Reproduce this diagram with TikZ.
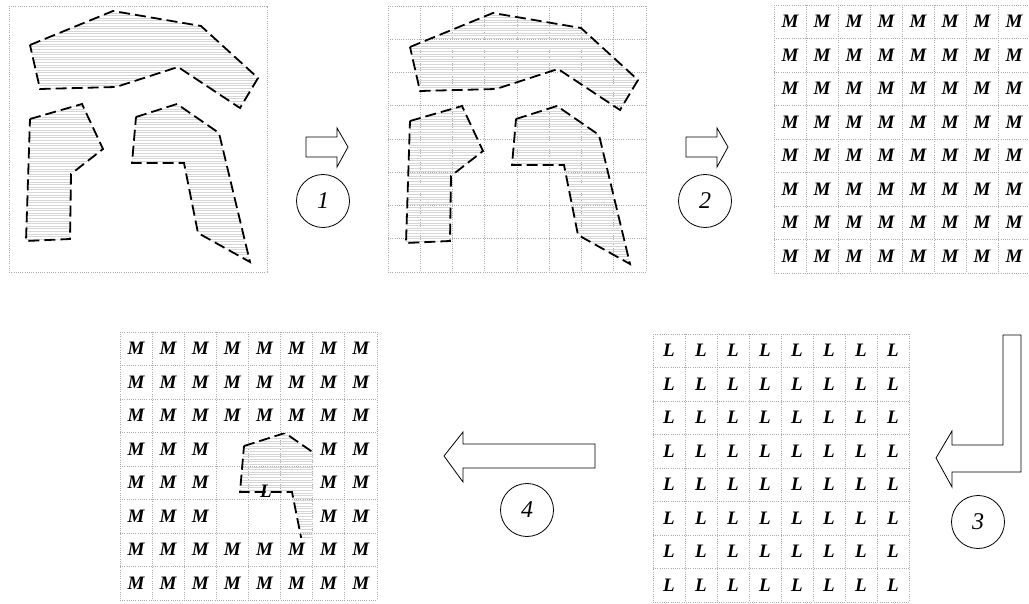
\documentclass[tikz,border=0pt]{standalone}
\usepackage{fontspec}
\setmainfont{Liberation Serif}

% one hatched region: fine horizontal lines inside, dashed outline
\newcommand{\hatchedregion}[1]{%
  \begin{scope}
    \clip #1;
    \foreach \h in {0,2.6,...,275}
      \draw[hatch] (0,\h) -- (280,\h);
  \end{scope}
  \draw[region] #1;
}

% the three regions, in the frame of the first panel
\newcommand{\drawregions}{%
  \hatchedregion{(30,45) -- (113,11) -- (201,26) -- (258,78) -- (240,108) -- (178,67) -- (116,87) -- (40,89) -- cycle}
  \hatchedregion{(30,119) -- (82,104) -- (103,149) -- (71,174) -- (70,239) -- (26,241) -- cycle}
  \hatchedregion{(136,117) -- (177,104) -- (219,133) -- (250,262) -- (198,233) -- (184,163) -- (132,163) -- cycle}
}

% 8x8 dotted cell grid between (#1,#2) and (#3,#4)
\newcommand{\cellgrid}[4]{%
  \foreach \i in {0,...,8}{
    \draw[gridline] ({#1+\i*(#3-#1)/8},#2) -- ({#1+\i*(#3-#1)/8},#4);
    \draw[gridline] (#1,{#2+\i*(#4-#2)/8}) -- (#3,{#2+\i*(#4-#2)/8});
  }}

\begin{document}
\begin{tikzpicture}[
    x=1pt, y=-1pt,
    gridline/.style={gray!65, line width=0.9pt, dash pattern=on 1pt off 1.2pt},
    hatch/.style={black!16, line width=0.6pt},
    region/.style={draw=black, line width=1.8pt, dash pattern=on 11pt off 5pt},
    cellmark/.style={inner sep=0pt, font=\fontsize{19}{19}\selectfont\bfseries\itshape},
    blockarrow/.style={draw=black, fill=white, line width=0.8pt, line join=miter},
    stagenum/.style={circle, draw, line width=0.8pt, minimum size=53pt, inner sep=0pt,
      font=\fontsize{24}{24}\selectfont\itshape},
]
\useasboundingbox (0,0) rectangle (1029,604);

% panel 1: the regions
\draw[gridline] (9,6) rectangle (267,272);
\drawregions

% panel 2: regions over the cells
\cellgrid{388}{6}{646}{272}
\begin{scope}[shift={(380,2)}]
  \drawregions
\end{scope}

% panel 3: all cells M
\cellgrid{774}{5}{1030}{273}
\foreach \r in {0,...,7}
  \foreach \c in {0,...,7}
    \node[cellmark] (m-\r-\c) at ({774+(\c+0.5)*32},{5+(\r+0.5)*33.5}) {M};

% panel 5: all cells L
\cellgrid{653}{334}{909}{602}
\foreach \r in {0,...,7}
  \foreach \c in {0,...,7}
    \node[cellmark] (l-\r-\c) at ({653+(\c+0.5)*32},{334+(\r+0.5)*33.5}) {L};

% panel 4: M outside, L inside the region
\cellgrid{120}{332}{377}{600}
\foreach \r in {0,...,7}
  \foreach \c in {0,...,7}{
    \pgfmathtruncatemacro{\inside}{(\r>2)*(\r<6)*(\c>2)*(\c<6)}
    \ifnum\inside=0
      \node[cellmark] (k-\r-\c) at ({120+(\c+0.5)*32.1},{332+(\r+0.5)*33.5}) {M};
    \fi
  }
\begin{scope}
  \clip (216,433) rectangle (313,537);
  \begin{scope}[shift={(108,329)}]
    \hatchedregion{(136,117) -- (177,104) -- (219,133) -- (250,262) -- (198,233) -- (184,163) -- (132,163) -- cycle}
  \end{scope}
\end{scope}
\node[cellmark] (lmid) at (266,491) {L};

% block arrows
\draw[blockarrow] (306,137) -- (337,137) -- (337,128) -- (348,147) -- (337,167) -- (337,157) -- (306,157) -- cycle;
\draw[blockarrow] (686,137) -- (717,137) -- (717,128) -- (728,147) -- (717,167) -- (717,157) -- (686,157) -- cycle;
\draw[blockarrow] (1003,335) -- (1021,335) -- (1021,472) -- (952,472) -- (952,487) -- (936,458)
  -- (952,431) -- (952,445) -- (1003,445) -- cycle;
\draw[blockarrow] (595,444) -- (463,444) -- (463,432) -- (444,456) -- (463,482) -- (463,468) -- (595,468) -- cycle;

% step numbers
\node[stagenum] (num1) at (323,201) {1};
\node[stagenum] (num2) at (705,201) {2};
\node[stagenum] (num3) at (978,522) {3};
\node[stagenum] (num4) at (527,510) {4};

\end{tikzpicture}
\end{document}
